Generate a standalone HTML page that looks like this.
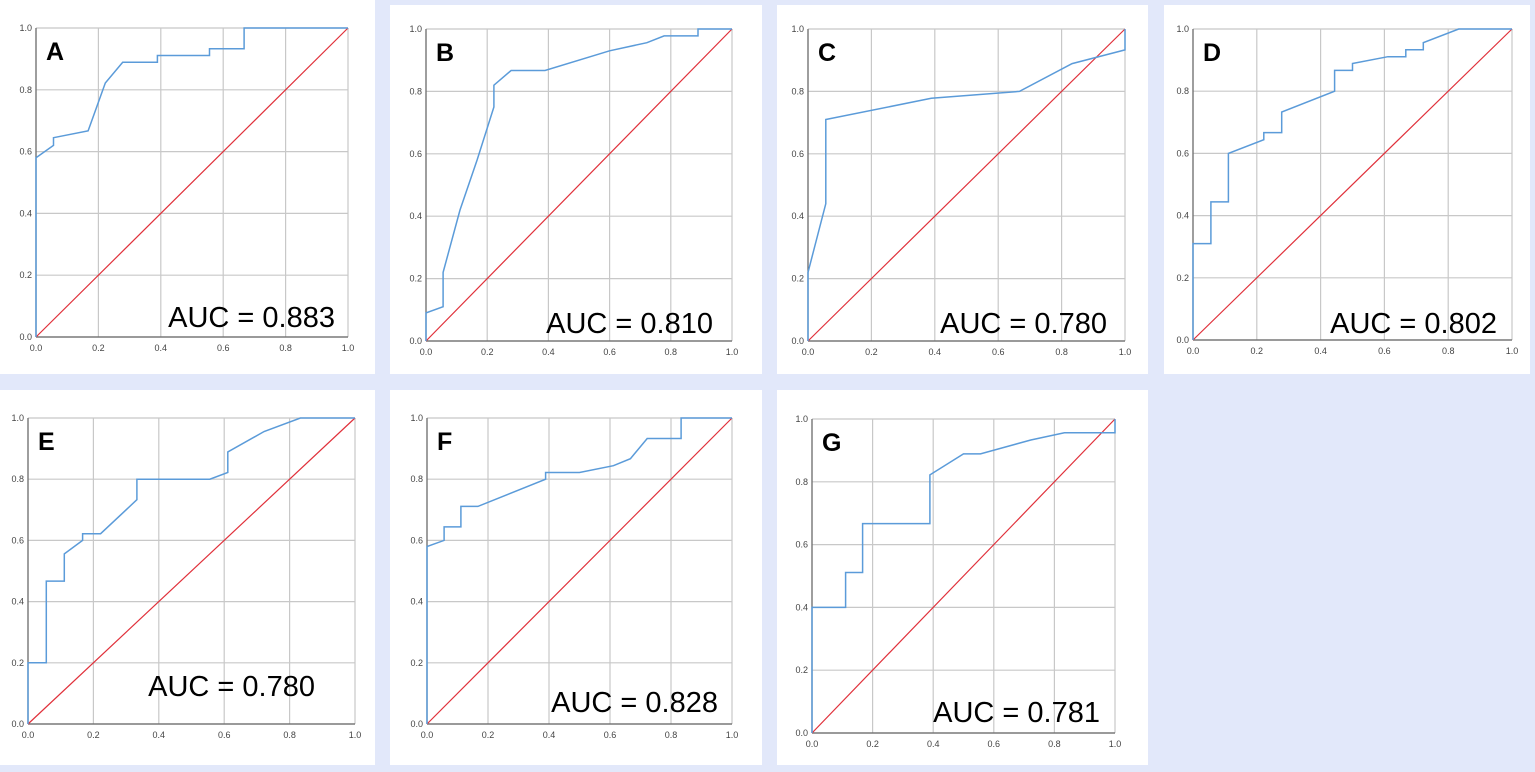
<!DOCTYPE html>
<html><head><meta charset="utf-8"><style>
html,body{margin:0;padding:0;background:#e2e8fa;}
svg{display:block}
</style></head><body>
<svg id="s" width="1535" height="772" xmlns="http://www.w3.org/2000/svg"></svg>
<script>
const P=[
{w:[0,0,375,374],p:[36,28,348,337],L:'A',a:[335,327],v:'0.883',d:[[0,0],[0,.58],[.056,.62],[.056,.645],[.167,.667],[.222,.822],[.278,.889],[.389,.889],[.389,.911],[.556,.911],[.556,.933],[.667,.933],[.667,1],[1,1]]},
{w:[390,5,762,374],p:[426,29,732,341],L:'B',a:[713,333],v:'0.810',d:[[0,0],[0,.09],[.056,.11],[.056,.22],[.111,.42],[.167,.58],[.222,.75],[.222,.82],[.278,.867],[.389,.867],[.6,.93],[.722,.956],[.778,.978],[.889,.978],[.889,1],[1,1]]},
{w:[777,5,1148,374],p:[808,29,1125,341],L:'C',a:[1107,333],v:'0.780',d:[[0,0],[0,.22],[.056,.44],[.056,.71],[.389,.778],[.667,.8],[.833,.889],[1,.933],[1,1]]},
{w:[1164,5,1530,374],p:[1193,29,1512,340],L:'D',a:[1497,333],v:'0.802',d:[[0,0],[0,.31],[.056,.31],[.056,.444],[.111,.444],[.111,.6],[.222,.644],[.222,.667],[.278,.667],[.278,.733],[.444,.8],[.444,.867],[.5,.867],[.5,.889],[.611,.911],[.667,.911],[.667,.933],[.722,.933],[.722,.956],[.833,1],[1,1]]},
{w:[0,390,375,765],p:[28,418,355,724],L:'E',a:[315,696],v:'0.780',d:[[0,0],[0,.2],[.056,.2],[.056,.467],[.111,.467],[.111,.556],[.167,.6],[.167,.622],[.222,.622],[.333,.733],[.333,.8],[.556,.8],[.611,.822],[.611,.889],[.722,.956],[.833,1],[1,1]]},
{w:[390,390,762,765],p:[427,418,732,724],L:'F',a:[718,712],v:'0.828',d:[[0,0],[0,.58],[.056,.6],[.056,.644],[.111,.644],[.111,.711],[.167,.711],[.389,.8],[.389,.822],[.5,.822],[.611,.844],[.667,.867],[.722,.933],[.833,.933],[.833,1],[1,1]]},
{w:[777,390,1148,765],p:[812,419,1115,733],L:'G',a:[1100,722],v:'0.781',d:[[0,0],[0,.4],[.111,.4],[.111,.511],[.167,.511],[.167,.667],[.389,.667],[.389,.822],[.5,.889],[.556,.889],[.722,.933],[.833,.956],[1,.956],[1,1]]}
];
let h='';
for(const q of P){
 const [wx0,wy0,wx1,wy1]=q.w,[x0,y0,x1,y1]=q.p,W=x1-x0,H=y1-y0;
 h+=`<rect x="${wx0}" y="${wy0}" width="${wx1-wx0}" height="${wy1-wy0}" fill="#fff"/>`;
 for(let i=0;i<=5;i++){const gx=x0+W*i/5,gy=y1-H*i/5;
  h+=`<line x1="${gx}" y1="${y0}" x2="${gx}" y2="${y1}" stroke="#c8c8c8" stroke-width="1.2"/>`;
  h+=`<line x1="${x0}" y1="${gy}" x2="${x1}" y2="${gy}" stroke="#c8c8c8" stroke-width="1.2"/>`;
  h+=`<text x="${gx}" y="${y1+14}" font-size="9" text-anchor="middle" fill="#444" font-family="Liberation Sans,sans-serif">${(i/5).toFixed(1)}</text>`;
  h+=`<text x="${x0-4}" y="${gy+3}" font-size="9" text-anchor="end" fill="#444" font-family="Liberation Sans,sans-serif">${(i/5).toFixed(1)}</text>`;}
 h+=`<line x1="${x0}" y1="${y0}" x2="${x0}" y2="${y1}" stroke="#666" stroke-width="1.2"/><line x1="${x0}" y1="${y1}" x2="${x1}" y2="${y1}" stroke="#666" stroke-width="1.2"/>`;
 h+=`<line x1="${x0}" y1="${y1}" x2="${x1}" y2="${y0}" stroke="#e0303a" stroke-width="1.2"/>`;
 h+=`<polyline fill="none" stroke="#5b9bd9" stroke-width="1.5" points="${q.d.map(([a,b])=>(x0+a*W).toFixed(1)+','+(y1-b*H).toFixed(1)).join(' ')}"/>`;
 h+=`<text x="${x0+10}" y="${y0+32}" font-size="25" font-weight="bold" font-family="Liberation Sans,sans-serif">${q.L}</text>`;
 h+=`<text x="${q.a[0]}" y="${q.a[1]}" font-size="29" text-anchor="end" font-family="Liberation Sans,sans-serif">AUC = ${q.v}</text>`;
}
document.getElementById('s').innerHTML=h;
</script>
</body></html>
